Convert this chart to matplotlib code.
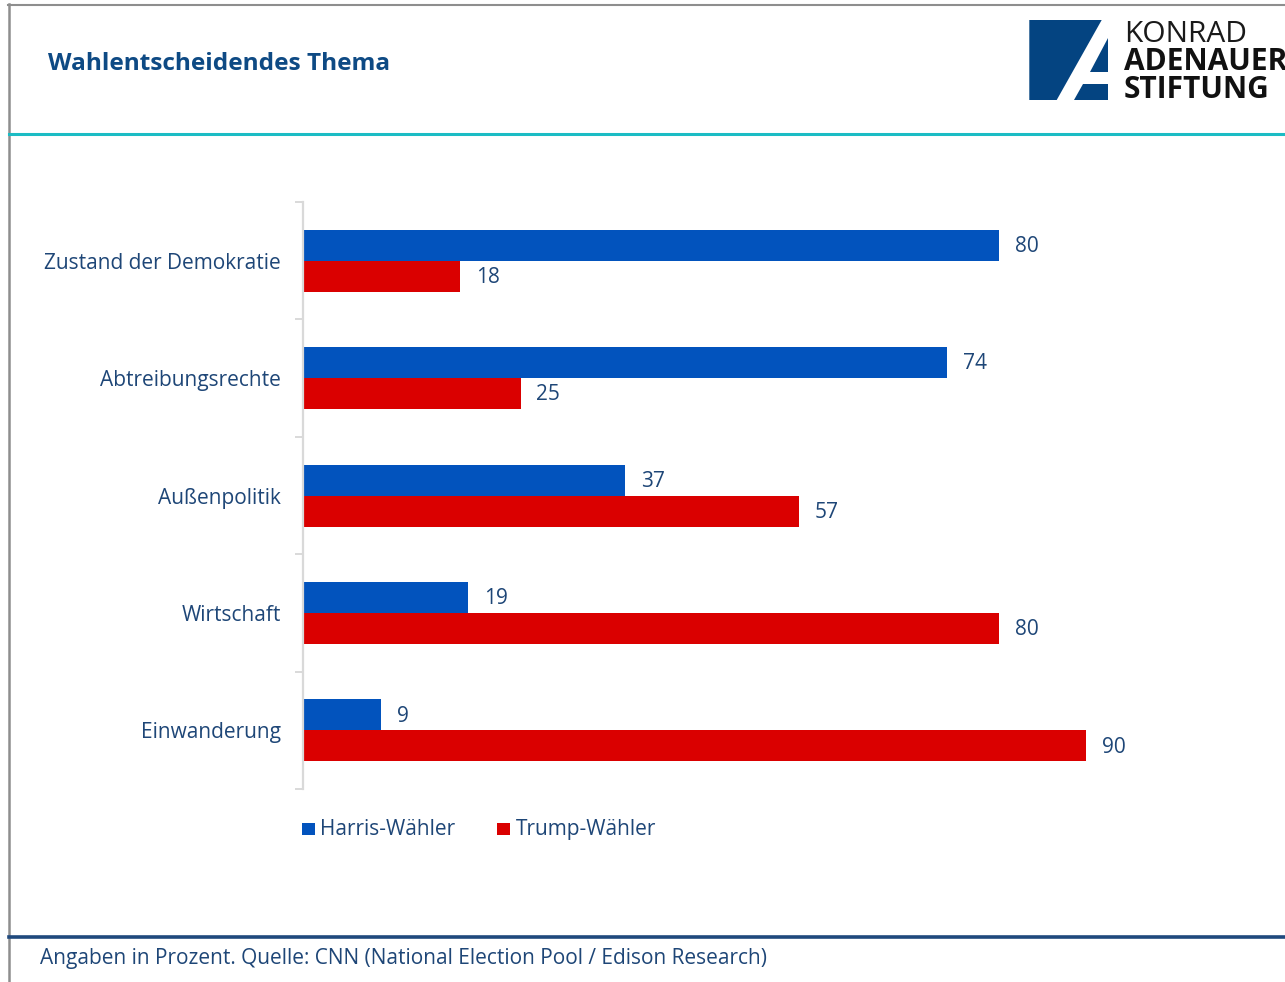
import matplotlib
matplotlib.use("Agg")
import matplotlib.pyplot as plt
from matplotlib.lines import Line2D
from matplotlib.patches import Polygon, Rectangle

plt.rcParams['font.family'] = ['Open Sans', 'DejaVu Sans']

categories = ["Zustand der Demokratie", "Abtreibungsrechte", "Außenpolitik", "Wirtschaft", "Einwanderung"]
harris = [80, 74, 37, 19, 9]
trump = [18, 25, 57, 80, 90]
series_names = ["Harris-Wähler", "Trump-Wähler"]
title = "Wahlentscheidendes Thema"
footnote = "Angaben in Prozent. Quelle: CNN (National Election Pool / Edison Research)"

BLUE = "#0253BD"
RED = "#DA0000"
TXT = "#1E4677"
TITLE_C = "#0E4A84"

W, H = 1285, 982
fig = plt.figure(figsize=(W / 100, H / 100), dpi=100)

def fx(px):
    return px / W

def fy(py):
    return 1 - py / H

# frame lines
fig.add_artist(Line2D([fx(8), 1], [fy(4.5), fy(4.5)], color="#8E8E8E", lw=1.5))
fig.add_artist(Line2D([fx(8.5), fx(8.5)], [fy(4), 0], color="#8E8E8E", lw=1.8))
fig.add_artist(Line2D([fx(9), 1], [fy(134), fy(134)], color="#1BBCC4", lw=2.2))
fig.add_artist(Line2D([fx(9), 1], [fy(937), fy(937)], color="#1F497D", lw=2.6))

# title
fig.text(fx(48), fy(64), title, fontsize=17.6, fontweight="bold", color=TITLE_C, va="center", ha="left")

# logo
LOGO = "#044481"
polys = [
    [(1029.3, 20), (1101.7, 20), (1056.7, 100), (1029.3, 100)],
    [(1108.3, 38.3), (1108.3, 71.7), (1089.6, 71.7)],
    [(1082.7, 84), (1108.3, 84), (1108.3, 100), (1073.7, 100)],
]
for p in polys:
    fig.add_artist(Polygon([(fx(a), fy(b)) for a, b in p], closed=True, facecolor=LOGO, edgecolor="none",
                           transform=fig.transFigure))
fig.text(fx(1124), fy(34), "KONRAD", fontsize=21.5, color="#1A1A1A", va="center", ha="left")
fig.text(fx(1124), fy(62.5), "ADENAUER", fontsize=21.5, fontweight="bold", color="#111111", va="center", ha="left")
fig.text(fx(1124), fy(90.5), "STIFTUNG", fontsize=21.5, fontweight="bold", color="#111111", va="center", ha="left")

# chart axes
left_px, right_px, top_px, bot_px = 303, 1200, 202, 789
ax = fig.add_axes([fx(left_px), fy(bot_px), fx(right_px - left_px), (bot_px - top_px) / H])
ax.set_facecolor("none")
px_per_unit = 8.7
ax.set_xlim(0, (right_px - left_px) / px_per_unit)
ax.set_ylim(len(categories) - 0.5, -0.5)

bh = 31 / 117.4
ypos = list(range(len(categories)))
ax.barh([y - bh / 2 for y in ypos], harris, height=bh, color=BLUE, edgecolor="none")
ax.barh([y + bh / 2 for y in ypos], trump, height=bh, color=RED, edgecolor="none")

for y, v in zip(ypos, harris):
    ax.annotate(str(v), (v, y - bh / 2), xytext=(11.5, -1), textcoords="offset points",
                va="center", ha="left", fontsize=15, color=TXT)
for y, v in zip(ypos, trump):
    ax.annotate(str(v), (v, y + bh / 2), xytext=(11.5, -1), textcoords="offset points",
                va="center", ha="left", fontsize=15, color=TXT)

for s in ["top", "right", "bottom"]:
    ax.spines[s].set_visible(False)
ax.spines["left"].set_color("#D9D9D9")
ax.spines["left"].set_linewidth(1.6)
ax.set_xticks([])
ax.set_yticks(ypos)
ax.set_yticklabels(categories, fontsize=15, color=TXT)
ax.tick_params(axis="y", which="major", length=0, pad=16)
ax.set_yticks([y - 0.5 for y in range(len(categories) + 1)], minor=True)
ax.tick_params(axis="y", which="minor", length=5.5, width=1.4, color="#D9D9D9")

# legend
for (sx, tx, name, col) in [(302, 320, series_names[0], BLUE), (497, 516, series_names[1], RED)]:
    fig.add_artist(Rectangle((fx(sx), fy(835)), fx(12.5), 12.5 / H, facecolor=col, edgecolor="none",
                             transform=fig.transFigure))
    fig.text(fx(tx), fy(829.5), name, fontsize=15, color=TXT, va="center", ha="left")

# footnote
fig.text(fx(40), fy(958.5), footnote, fontsize=15, color=TXT, va="center", ha="left")

fig.savefig("out.png", dpi=100)
